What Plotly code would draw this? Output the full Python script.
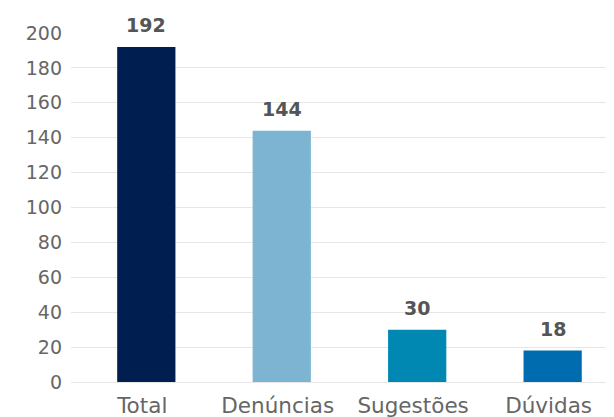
import plotly.graph_objects as go

categories = ["Total", "Denúncias", "Sugestões", "Dúvidas"]
values = [192, 144, 30, 18]
colors = ["#001E50", "#7CB4D1", "#0088B3", "#006CB0"]
y_ticks = [0, 20, 40, 60, 80, 100, 120, 140, 160, 180, 200]

FONT = "DejaVu Sans"
BAR_W = 0.43
BAR_SHIFT = 0.03

fig = go.Figure(go.Bar(
    x=categories, y=values,
    marker=dict(color=colors, line=dict(width=0)),
    width=BAR_W,
    offset=-BAR_W / 2 + BAR_SHIFT,
    cliponaxis=False,
))

for c, v in zip(categories, values):
    fig.add_annotation(x=c, y=v, text=str(v), showarrow=False, yanchor="bottom",
                       yshift=9, xshift=4,
                       font=dict(family=FONT, size=19, color="#555555", weight="bold"))

fig.update_layout(
    width=614, height=417,
    margin=dict(l=63, r=0, t=25, b=43),
    paper_bgcolor="white", plot_bgcolor="white",
    showlegend=False,
    font=dict(family=FONT, color="#666666"),
    xaxis=dict(showgrid=False, showline=False, ticks="", automargin=False,
               range=[-0.526, 3.542], ticklabelstandoff=8,
               tickfont=dict(size=21.5, color="#666666")),
    yaxis=dict(range=[0, 200], tickvals=y_ticks, showgrid=True, gridcolor="#E6E6E6",
               gridwidth=1, zeroline=True, zerolinecolor="#E6E6E6", zerolinewidth=1,
               showline=False, ticks="", automargin=False, ticklabelstandoff=8,
               tickfont=dict(size=19, color="#666666")),
)

fig.write_html("out.html")
